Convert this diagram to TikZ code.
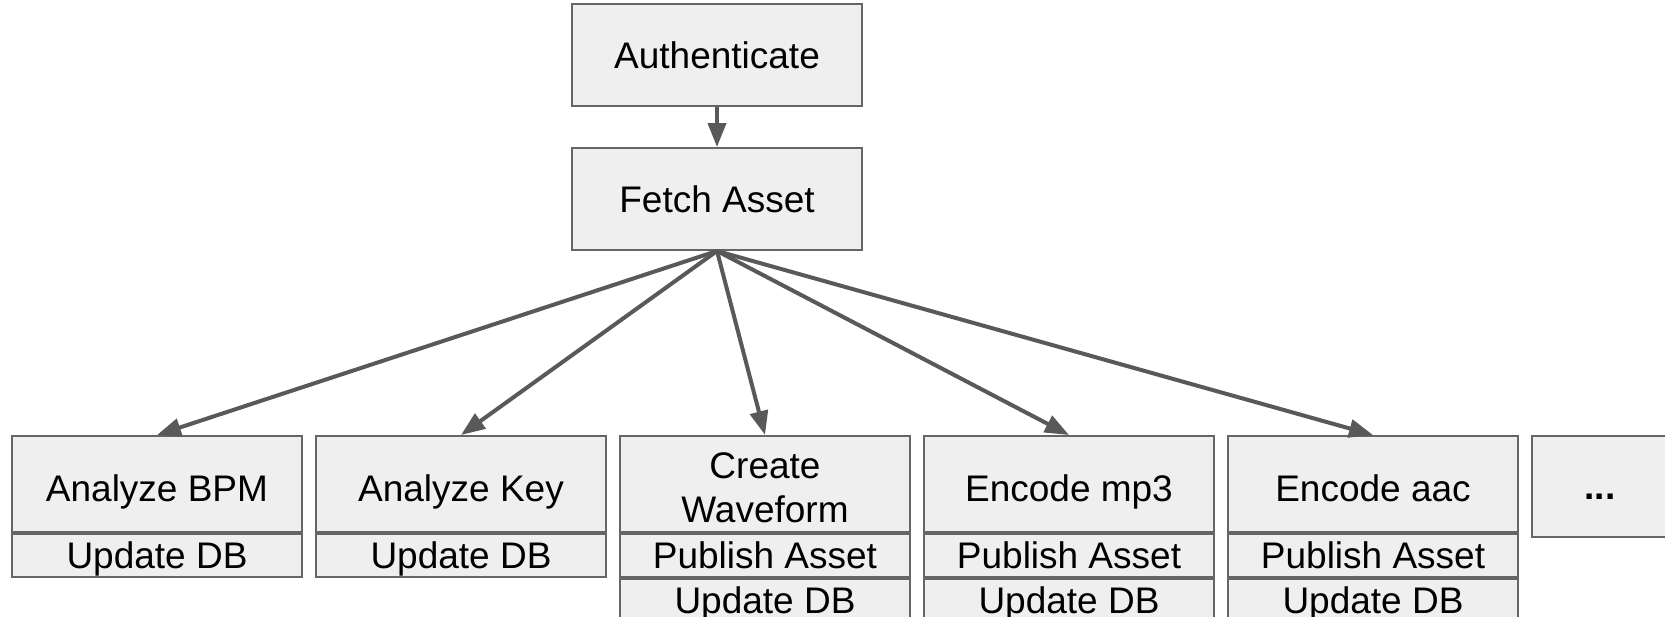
\documentclass[tikz,border=0pt]{standalone}
\usepackage{fontspec}
\setmainfont{Liberation Sans}
\usetikzlibrary{arrows.meta}
\definecolor{boxfill}{HTML}{EFEFEF}
\definecolor{boxline}{HTML}{666666}
\definecolor{arrowline}{HTML}{595959}
\begin{document}
\begin{tikzpicture}[x=1pt,y=-1pt,
  box/.style={draw=boxline, fill=boxfill, line width=2pt, inner sep=0pt,
    minimum width=290pt, text height=26.5pt, text depth=0pt,
    font=\fontsize{37}{44}\selectfont},
  head/.style={box, minimum height=102pt},
  task/.style={box, minimum height=96pt, text height=34.5pt},
  row/.style={box, minimum height=43pt, anchor=north},
  conn/.style={draw=arrowline, line width=4pt,
    -{Triangle[length=24pt,width=18pt]}}]
\useasboundingbox (0,0) rectangle (1665,616);

% pipeline entry
\node[head] (auth)  at (717,55)  {Authenticate};
\node[head] (fetch) at (717,199) {Fetch Asset};

% tasks fanned out from the fetched asset
\node[task] (bpm) at (157,484) {Analyze BPM};
\node[row]  (bpmdb) at (bpm.south) {Update DB};

\node[task] (key) at (461,484) {Analyze Key};
\node[row]  (keydb) at (key.south) {Update DB};

\node[task, align=center, text height=76pt, text depth=0pt] (wave) at (765,484) {Create\\Waveform};
\node[row]  (wavepub) at (wave.south) {Publish Asset};
\node[row]  (wavedb) at (wavepub.south) {Update DB};

\node[task] (mp3) at (1069,484) {Encode mp3};
\node[row]  (mp3pub) at (mp3.south) {Publish Asset};
\node[row]  (mp3db) at (mp3pub.south) {Update DB};

\node[task] (aac) at (1373,484) {Encode aac};
\node[row]  (aacpub) at (aac.south) {Publish Asset};
\node[row]  (aacdb) at (aacpub.south) {Update DB};

\node[box, minimum width=136pt, minimum height=101pt] (more) at (1600,486.5) {\bfseries ...};

% connectors
\draw[conn] (auth.south) -- (fetch.north);
\foreach \t in {bpm,key,wave,mp3,aac}
  \draw[conn] (fetch.south) -- (\t.north);
\end{tikzpicture}
\end{document}
